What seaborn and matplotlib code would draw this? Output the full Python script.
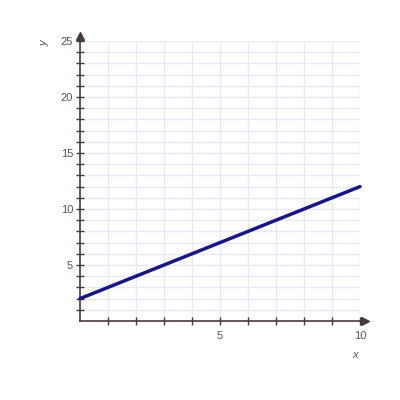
import matplotlib
matplotlib.use("Agg")
import matplotlib.pyplot as plt
import seaborn as sns
import pandas as pd
import numpy as np

x_vals = [0, 10]
y_vals = [2, 12]
x_tick_labels = [5, 10]
y_tick_labels = [5, 10, 15, 20, 25]

sns.set_style("white")
plt.rcParams['font.family'] = ['Liberation Sans', 'DejaVu Sans']

df = pd.DataFrame({"x": x_vals, "y": y_vals})

fig = plt.figure(figsize=(4, 4), dpi=100)
ax = fig.add_axes([0.2, 0.1975, 0.7, 0.7])

axis_col = "#4a3a3a"
grid_col = "#e8e8f6"

ax.set_xlim(0, 10)
ax.set_ylim(0, 25)

for gx in range(1, 11):
    ax.axvline(gx, color=grid_col, lw=1, zorder=0)
for gy in range(1, 26):
    ax.axhline(gy, color=grid_col, lw=1, zorder=0)

sns.lineplot(data=df, x="x", y="y", ax=ax, color="#16168a", lw=2.5, zorder=3, clip_on=False)

for s in ["top", "right"]:
    ax.spines[s].set_visible(False)
for s in ["left", "bottom"]:
    ax.spines[s].set_color(axis_col)
    ax.spines[s].set_linewidth(1.2)

ax.set_xticks(range(1, 11))
ax.set_xticklabels([str(v) if v in x_tick_labels else "" for v in range(1, 11)])
ax.set_yticks(range(1, 26))
ax.set_yticklabels([str(v) if v in y_tick_labels else "" for v in range(1, 26)])
ax.tick_params(axis="both", direction="inout", length=6, width=1, color=axis_col,
               labelcolor="#555555", labelsize=8, pad=2, bottom=True, left=True)
ax.tick_params(axis="x", pad=4)

# arrows beyond axis ends
ax.plot([1, 1 + 6 / 280], [0, 0], color=axis_col, lw=1.2, transform=ax.transAxes, clip_on=False)
ax.plot([0, 0], [1, 1 + 6 / 280], color=axis_col, lw=1.2, transform=ax.transAxes, clip_on=False)
ax.plot(1 + 5 / 280, 0, marker=">", color=axis_col, ms=6, transform=ax.transAxes, clip_on=False)
ax.plot(0, 1 + 5 / 280, marker="^", color=axis_col, ms=6, transform=ax.transAxes, clip_on=False)

ax.set_xlabel("")
ax.set_ylabel("")
fig.text(355 / 400, 1 - 355 / 400, "x", fontsize=8, style="italic", color="#555555",
         ha="center", va="center")
fig.text(45 / 400, 1 - 43 / 400, "y", fontsize=8, style="italic", color="#555555",
         ha="center", va="center", rotation=90)

fig.savefig("out.png", dpi=100)
